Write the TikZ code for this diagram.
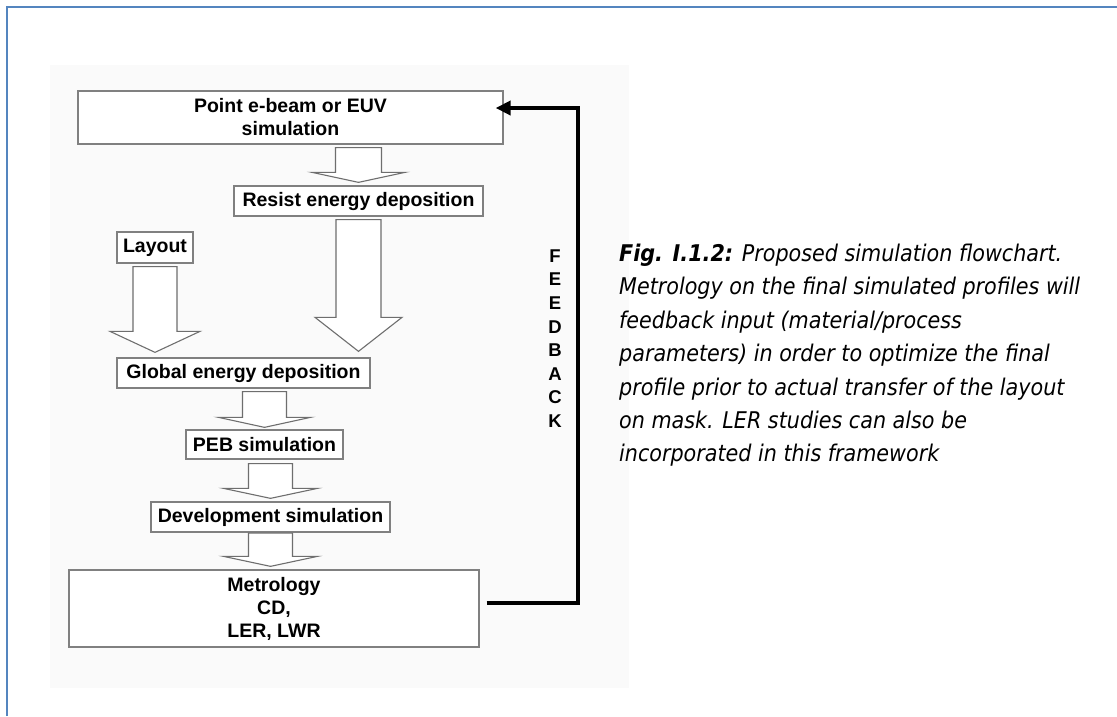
\documentclass[tikz,border=0pt]{standalone}
\usepackage{fontspec}
\setmainfont{Liberation Sans}
\newfontfamily\capfont{DejaVu Sans Condensed}
\usetikzlibrary{arrows.meta,calc}
\definecolor{frameblue}{RGB}{84,133,191}
\definecolor{boxgray}{RGB}{128,128,128}
\definecolor{arrgray}{RGB}{110,110,110}
\definecolor{bgfaint}{RGB}{250,250,250}
\tikzset{
  box/.style={draw=boxgray, line width=1.3pt, fill=white, inner sep=0pt, align=center,
    font=\fontsize{19.5}{23}\selectfont\bfseries},
  barrow/.style={draw=arrgray, line width=1.1pt, fill=white, line join=miter},
  fb/.style={line width=4pt, line join=miter, -{Triangle[length=15pt,width=14pt]}},
  captext/.style={anchor=base west, inner sep=0pt, font=\capfont\fontsize{23}{33}\selectfont\itshape},
  fbtext/.style={inner sep=0pt, align=center, font=\fontsize{18.5}{23.6}\selectfont\bfseries},
}
% #1 from node, #2 to node, #3 node giving x, #4 top gap, #5 bottom gap,
% #6 shaft half width, #7 head half width, #8 head length
\newcommand{\blockarr}[8]{%
  \draw[barrow] let \p1=(#1.south), \p2=(#2.north), \p3=(#3) in
    (\x3-#6pt,\y1-#4pt) -- (\x3-#6pt,\y2+#5pt+#8pt) -- (\x3-#7pt,\y2+#5pt+#8pt)
    -- (\x3,\y2+#5pt) -- (\x3+#7pt,\y2+#5pt+#8pt) -- (\x3+#6pt,\y2+#5pt+#8pt)
    -- (\x3+#6pt,\y1-#4pt) -- cycle;}
\begin{document}
\begin{tikzpicture}[x=1pt,y=-1pt]
\useasboundingbox (0,0) rectangle (1117,716);
\fill[white] (0,0) rectangle (1117,716);
\fill[bgfaint] (50,65) rectangle (629,688);
\draw[frameblue, line width=2pt] (7,716) -- (7,7) -- (1117,7);

% boxes
\node[box, minimum width=425pt, minimum height=53pt] (top) at (290.5,117.5) {Point e-beam or EUV\\simulation};
\node[box, minimum width=249pt, minimum height=30pt] (res) at (358.5,201) {Resist energy deposition};
\node[box, minimum width=76pt, minimum height=31pt] (lay) at (155,247.5) {Layout};
\node[box, minimum width=253pt, minimum height=30pt] (glob) at (243.5,373) {Global energy deposition};
\node[box, minimum width=157pt, minimum height=29pt] (peb) at (264.5,444.5) {PEB simulation};
\node[box, minimum width=239pt, minimum height=30pt] (dev) at (270.5,517) {Development simulation};
\node[box, minimum width=410pt, minimum height=77pt] (met) at (274,608.5) {Metrology\\CD,\\LER, LWR};

% block arrows
\blockarr{top}{res}{res}{3}{3}{23}{46.5}{10}
\blockarr{lay}{glob}{lay}{3}{5}{22}{45}{21}
\blockarr{res}{glob}{res}{3}{6}{22.5}{43.5}{34}
\blockarr{glob}{peb}{peb}{3}{2}{22}{46}{10}
\blockarr{peb}{dev}{dev}{4}{3}{22}{47}{10}
\blockarr{dev}{met}{dev}{0.5}{3}{22}{47}{10}

% feedback loop
\draw[fb] ([xshift=7pt,yshift=5.5pt]met.east) -- ++(91,0) |- ([xshift=-8pt,yshift=9.5pt]top.east);
\node[fbtext] (fbl) at (555,338.5) {F\\E\\E\\D\\B\\A\\C\\K};

% caption
\node[captext] (cap1) at (619,261) {{\bfseries Fig. I.1.2:} Proposed simulation flowchart.};
\node[captext] (cap2) at (619,294.5) {Metrology on the final simulated profiles will};
\node[captext] (cap3) at (619,328) {feedback input (material/process};
\node[captext] (cap4) at (619,361.5) {parameters) in order to optimize the final};
\node[captext] (cap5) at (619,395) {profile prior to actual transfer of the layout};
\node[captext] (cap6) at (619,428) {on mask. LER studies can also be};
\node[captext] (cap7) at (619,461) {incorporated in this framework};
\end{tikzpicture}
\end{document}
